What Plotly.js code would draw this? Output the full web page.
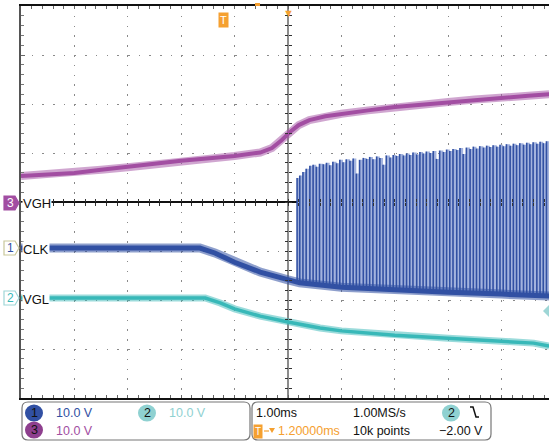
<!DOCTYPE html>
<html><head><meta charset="utf-8">
<script src="https://cdn.plot.ly/plotly-3.0.1.min.js"></script>
<style>html,body{margin:0;padding:0;background:#fff;overflow:hidden}#chart{width:549px;height:444px}</style>
</head><body><div id="chart"></div>
<script>
// ---- data (time in ms from screen centre, volts relative to each channel's ground marker) ----
const vghTime  = [-5, -4.5, -4, -3.5, -3, -2.5, -2, -1.5, -1, -0.52, -0.3, -0.12, 0.05, 0.2, 0.4, 0.7, 1, 1.5, 2, 2.5, 3, 3.5, 4, 4.5, 4.89];
const vghVolts = [5.5, 5.8, 6.1, 6.8, 7.3, 8.0, 8.6, 9.0, 9.6, 10.3, 11.2, 12.8, 14.6, 15.9, 16.9, 17.7, 18.2, 18.9, 19.6, 20.1, 20.6, 21.1, 21.6, 21.9, 22.2];

const clkTime  = [-5, -1.65, -1.37, -1.0, -0.52, 0, 0.22, 1, 2, 3, 4, 4.89];
const clkVolts = [0, 0, -1.0, -2.9, -4.9, -6.5, -7.1, -8.0, -8.6, -9.0, -9.4, -9.8];

const vglTime  = [-5, -1.55, -1.27, -1.0, -0.52, 0, 0.6, 1, 2, 3, 4, 4.6, 4.89];
const vglVolts = [0, 0, -1.0, -2.2, -3.7, -4.9, -6.1, -6.7, -7.6, -8.2, -8.8, -9.2, -9.8];

const pulseTime = [0.17,0.22,0.28,0.34,0.41,0.47,0.53,0.59,0.66,0.72,0.78,0.84,0.91,0.97,1.03,1.09,1.16,1.22,1.28,1.34,1.41,1.47,1.53,1.59,1.66,1.72,1.78,1.84,1.91,1.97,2.03,2.09,2.16,2.22,2.28,2.34,2.41,2.47,2.53,2.59,2.66,2.72,2.78,2.84,2.91,2.97,3.03,3.09,3.16,3.22,3.28,3.34,3.41,3.47,3.53,3.59,3.66,3.72,3.78,3.84,3.91,3.97,4.03,4.09,4.16,4.22,4.28,4.34,4.41,4.47,4.53,4.59,4.66,4.72,4.78,4.84];
const pulseTop  = [14.3,14.8,15.5,16.2,16.8,17.0,16.6,17.2,17.1,17.4,16.9,17.6,17.3,18.0,17.5,18.1,17.8,18.3,15.2,18.0,18.4,18.2,18.6,18.1,18.7,18.4,17.0,18.9,18.5,19.0,18.8,19.2,18.9,19.3,19.0,19.5,19.1,19.6,19.3,19.7,19.4,19.8,18.2,19.9,19.6,20.1,19.8,20.2,20.0,20.4,19.2,20.5,20.2,20.7,20.3,20.8,20.5,20.9,20.6,21.0,20.7,21.1,20.8,21.2,20.9,21.3,21.0,21.4,21.1,21.5,21.2,21.6,21.3,21.7,21.4,21.8];

const channelNames = ['CLK', 'VGL', 'VGH'];
const channelScale = ['10.0 V', '10.0 V', '10.0 V'];
const horizScale = '1.00ms', sampleRate = '1.00MS/s', triggerPos = '1.20000ms', recordLen = '10k points', triggerLevel = '\u22122.00 V';

// ---- styling / geometry ----
const VPD = 10;                 // volts per division
const OFF1 = -0.94, OFF2 = -1.96, OFF3 = -0.02;   // channel offsets in divisions
const L = 21, R = 549, T = 6, B = 398;
const px = x => (x - L) / (R - L);
const py = y => (B - y) / (B - T);
const toDiv = (arr, off) => arr.map(v => v / VPD + off);
function interp(xs, ys, x) {
  for (let i = 0; i < xs.length - 1; i++) {
    if (x >= xs[i] && x <= xs[i + 1]) return ys[i] + (ys[i + 1] - ys[i]) * (x - xs[i]) / (xs[i + 1] - xs[i]);
  }
  return ys[ys.length - 1];
}
const C1 = '#3150a3', C1L = '#a3b3de', C2 = '#38b8b8', C3 = '#a24ea2', ORANGE = '#f5a030';
const FONT = 'Liberation Sans, Arial, sans-serif';
const FS = 12.5;

const pulseBase = pulseTime.map(t => interp(clkTime, clkVolts, t));
const baseDiv = pulseBase.map(v => v / VPD + OFF1);
const topDiv = pulseTop.map(v => v / VPD + OFF1);
const lx = [], ly = [];
pulseTime.forEach((t, i) => { lx.push(t, t, null); ly.push(baseDiv[i], topDiv[i], null); });
const lastT = pulseTime[pulseTime.length - 1] + 0.06;

const traces = [
  {x: vglTime, y: toDiv(vglVolts, OFF2), mode: 'lines', line: {color: 'rgba(56,184,184,0.5)', width: 7}, hoverinfo: 'skip'},
  {x: vglTime, y: toDiv(vglVolts, OFF2), mode: 'lines', line: {color: C2, width: 3.5}, hoverinfo: 'skip'},
  // pale intensity fill under the pulse envelope
  {x: pulseTime.concat([lastT]), y: baseDiv.concat([baseDiv[baseDiv.length - 1]]), mode: 'lines', line: {width: 0, shape: 'hv'}, hoverinfo: 'skip'},
  {x: pulseTime.concat([lastT]), y: topDiv.concat([topDiv[topDiv.length - 1]]), mode: 'lines', fill: 'tonexty', fillcolor: C1L, line: {width: 0, shape: 'hv'}, hoverinfo: 'skip'},
  {x: lx, y: ly, mode: 'lines', line: {color: C1, width: 1.6}, hoverinfo: 'skip', connectgaps: false},
  {x: clkTime, y: toDiv(clkVolts, OFF1), mode: 'lines', line: {color: 'rgba(49,80,163,0.55)', width: 9}, hoverinfo: 'skip'},
  {x: clkTime, y: toDiv(clkVolts, OFF1), mode: 'lines', line: {color: C1, width: 5}, hoverinfo: 'skip'},
  {x: vghTime, y: toDiv(vghVolts, OFF3), mode: 'lines', line: {color: 'rgba(162,78,162,0.5)', width: 8}, hoverinfo: 'skip'},
  {x: vghTime, y: toDiv(vghVolts, OFF3), mode: 'lines', line: {color: C3, width: 4}, hoverinfo: 'skip'},
  {x: [], y: [], xaxis: 'x2', yaxis: 'y2', hoverinfo: 'skip'},
  {x: [], y: [], xaxis: 'x3', yaxis: 'y3', hoverinfo: 'skip'}
];

const XR = [-5, -5 + (R - L) / 53.4];
const YR = [-4, 4];
const cx = (0 - XR[0]) / (XR[1] - XR[0]);

function rrect(x0, y0, x1, y1, r) {
  const P = (x, y) => px(x) + ',' + py(y);
  return 'M' + P(x0 + r, y0) + ' L' + P(x1 - r, y0) + ' Q' + P(x1, y0) + ' ' + P(x1, y0 + r) +
    ' L' + P(x1, y1 - r) + ' Q' + P(x1, y1) + ' ' + P(x1 - r, y1) + ' L' + P(x0 + r, y1) +
    ' Q' + P(x0, y1) + ' ' + P(x0, y1 - r) + ' L' + P(x0, y0 + r) + ' Q' + P(x0, y0) + ' ' + P(x0 + r, y0) + ' Z';
}
function poly(pts) { return 'M' + pts.map(p => px(p[0]) + ',' + py(p[1])).join(' L') + ' Z'; }
function circ(cxp, cyp, r, color) {
  return {type: 'circle', xref: 'paper', yref: 'paper', x0: px(cxp - r), x1: px(cxp + r), y0: py(cyp + r * 0.95), y1: py(cyp - r * 0.95), fillcolor: color, line: {width: 0}};
}
function marker(yc, fill, stroke) {
  return {type: 'path', xref: 'paper', yref: 'paper', path: poly([[4, yc - 7], [15, yc - 7], [19, yc], [15, yc + 7], [4, yc + 7]]), fillcolor: fill, line: {color: stroke, width: 1.2}};
}

const shapes = [
  marker(203, C3, C3), marker(248, '#ffffff', '#c9c79a'), marker(298, '#ffffff', '#9ed6d6'),
  {type: 'path', xref: 'paper', yref: 'paper', path: rrect(22, 402, 250, 440, 6), line: {color: '#777', width: 1.2}},
  {type: 'path', xref: 'paper', yref: 'paper', path: rrect(252, 402, 491, 440, 6), line: {color: '#777', width: 1.2}},
  circ(34, 413, 9, C1), circ(34, 430, 9, '#8e3f8e'), circ(147, 413, 9, '#8fd1d1'), circ(451, 413, 9, '#8fd1d1'),
  {type: 'path', xref: 'paper', yref: 'paper', path: 'M' + px(470) + ',' + py(407) + ' L' + px(473) + ',' + py(407) + ' L' + px(476) + ',' + py(417) + ' L' + px(479) + ',' + py(417), line: {color: '#111', width: 1.5}},
  {type: 'rect', xref: 'paper', yref: 'paper', x0: px(255), x1: px(260), y0: py(6), y1: py(3), fillcolor: ORANGE, line: {width: 0}},
  {type: 'path', xref: 'paper', yref: 'paper', path: poly([[549, 305], [543, 311], [549, 317]]), fillcolor: '#9ed6d6', line: {width: 0}},
  // small "→▼" glyph after the T icon in the status bar
  {type: 'line', xref: 'paper', yref: 'paper', x0: px(264), x1: px(269), y0: py(431), y1: py(431), line: {color: ORANGE, width: 1.2}},
  {type: 'path', xref: 'paper', yref: 'paper', path: poly([[269, 428], [275, 428], [272, 433]]), fillcolor: ORANGE, line: {width: 0}}
];

function txt(text, x, y, color, size, extra) {
  return Object.assign({text: text, xref: 'paper', yref: 'paper', x: px(x), y: py(y), xanchor: 'left', yanchor: 'middle', showarrow: false, font: {family: FONT, size: size || FS, color: color || '#111'}}, extra || {});
}
const annotations = [
  txt(channelNames[2], 22, 204, '#111', 13, {bgcolor: '#fff', borderpad: 0}),
  txt(channelNames[0], 22, 249, '#111', 13, {bgcolor: '#fff', borderpad: 0}),
  txt(channelNames[1], 22, 299, '#111', 13, {bgcolor: '#fff', borderpad: 0}),
  txt('3', 10, 203, '#fff', 12, {xanchor: 'center'}),
  txt('1', 10, 248, C1, 12, {xanchor: 'center'}),
  txt('2', 10, 298, C2, 12, {xanchor: 'center'}),
  txt('1', 34, 413, '#111', 12.5, {xanchor: 'center'}),
  txt('3', 34, 430, '#111', 12.5, {xanchor: 'center'}),
  txt('2', 147, 413, '#111', 12.5, {xanchor: 'center'}),
  txt('2', 451, 413, '#111', 12.5, {xanchor: 'center'}),
  txt(channelScale[0], 54, 413, C1),
  txt(channelScale[1], 167, 413, '#8fd1d1'),
  txt(channelScale[2], 54, 431, C3),
  txt(horizScale, 254, 413),
  txt(sampleRate, 351, 413),
  txt(recordLen, 351, 431),
  txt(triggerLevel, 437, 431),
  txt('T', 258, 431, '#fff', 10, {xanchor: 'center', bgcolor: ORANGE, borderpad: 1}),
  txt(triggerPos, 276, 431, ORANGE, 12.5),
  txt('T', 223, 20, '#fff', 11, {xanchor: 'center', bgcolor: ORANGE, borderpad: 1}),
  {text: '\u25BC', xref: 'x', yref: 'paper', x: 0, y: py(3), xanchor: 'center', yanchor: 'top', showarrow: false, font: {size: 11, color: ORANGE}}
];

const ax = {showticklabels: false, fixedrange: true};
const layout = {
  width: 549, height: 444,
  margin: {l: L, r: 549 - R, t: T, b: 444 - B, pad: 0},
  paper_bgcolor: '#fff', plot_bgcolor: '#fff',
  showlegend: false,
  xaxis: Object.assign({}, ax, {range: XR, dtick: 1, tick0: 0, showgrid: true, gridcolor: '#8a8a8a', gridwidth: 1, griddash: '1.5px,8.3px',
    zeroline: true, zerolinecolor: '#8c8c8c', zerolinewidth: 2,
    showline: true, linecolor: '#111', linewidth: 2, mirror: 'ticks', ticks: 'inside', ticklen: 3, tickcolor: '#666', minor: {dtick: 0.2, ticks: 'inside', ticklen: 3, tickcolor: '#666'}}),
  yaxis: Object.assign({}, ax, {range: YR, dtick: 1, tick0: 0, showgrid: true, gridcolor: '#8a8a8a', gridwidth: 1, griddash: '1.5px,9.2px',
    zeroline: true, zerolinecolor: '#111', zerolinewidth: 1.5,
    showline: true, linecolor: '#555', linewidth: 2, mirror: false, ticks: 'inside', ticklen: 4, tickcolor: '#666', minor: {dtick: 0.2, ticks: 'inside', ticklen: 3, tickcolor: '#777'}}),
  xaxis2: Object.assign({}, ax, {range: XR, overlaying: 'x', anchor: 'free', position: 0.5, dtick: 0.2, tick0: 0, ticks: 'inside', ticklen: 3, tickcolor: '#333', showgrid: false, zeroline: false, showline: false}),
  yaxis2: Object.assign({}, ax, {range: YR, overlaying: 'y', anchor: 'free', position: cx, dtick: 0.2, tick0: 0, ticks: 'inside', ticklen: 3, tickcolor: '#333', showgrid: false, zeroline: false, showline: false}),
  xaxis3: Object.assign({}, ax, {range: XR, overlaying: 'x', anchor: 'free', position: 0.5, side: 'top', dtick: 0.2, tick0: 0, ticks: 'inside', ticklen: 3, tickcolor: '#333', showgrid: false, zeroline: false, showline: false}),
  yaxis3: Object.assign({}, ax, {range: YR, overlaying: 'y', anchor: 'free', position: cx, side: 'right', dtick: 0.2, tick0: 0, ticks: 'inside', ticklen: 3, tickcolor: '#333', showgrid: false, zeroline: false, showline: false}),
  shapes: shapes,
  annotations: annotations
};
Plotly.newPlot('chart', traces, layout, {staticPlot: true, displayModeBar: false});
</script>
</body></html>
